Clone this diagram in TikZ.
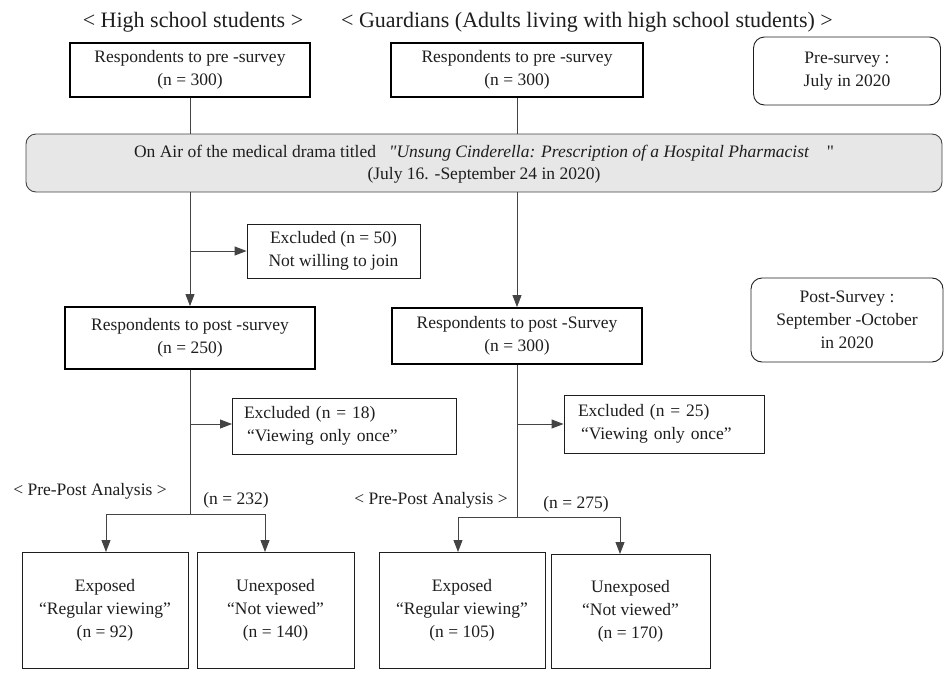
\documentclass[tikz,border=0pt]{standalone}
\usepackage{fontspec}
\setmainfont{Liberation Serif}
\usetikzlibrary{arrows.meta,calc}
\newcommand\strq{\XeTeXglyph\XeTeXcharglyph"22\relax}
\definecolor{ink}{HTML}{1E1E1E}
\definecolor{linec}{HTML}{444444}
\definecolor{bannerfill}{HTML}{E7E7E7}
\tikzset{
  every node/.style={text=ink, font=\fontsize{17.5}{23}\selectfont, align=center, inner sep=0pt},
  thickbox/.style={draw=black, line width=1.8pt, minimum width=#1},
  thinbox/.style={draw=ink, line width=0.9pt},
  roundbox/.style={draw=ink, line width=0.9pt, rounded corners=11pt},
  conn/.style={draw=linec, line width=0.9pt},
  arr/.style={conn, -{Triangle[length=12pt,width=9pt]}},
  headtxt/.style={font=\fontsize{22}{26}\selectfont},
}
\begin{document}
\begin{tikzpicture}[x=1pt,y=-1pt]
\useasboundingbox (0,0) rectangle (945,672);
% headers
\node[headtxt] (h1) at (193,22) {< High school students >};
\node[headtxt] (h2) at (587,22) {< Guardians (Adults living with high school students) >};
% top boxes
\node[thickbox=240pt, minimum height=54pt] (A1) at (190,70) {Respondents to pre -survey\\(n = 300)};
\node[thickbox=252pt, minimum height=54pt] (B1) at (517,70) {Respondents to pre -survey\\(n = 300)};
\node[roundbox, minimum width=187pt, minimum height=68pt] (P1) at (847,71) {Pre-survey :\\July in 2020};
% banner
\node[draw=linec, line width=0.9pt, fill=bannerfill, rounded corners=10pt, minimum width=916pt, minimum height=58pt] (ban) at (484,163) {};
\node (ban1) at (484,153) {On Air of the medical drama titled \enspace\textit{\strq Unsung Cinderella: Prescription of a Hospital Pharmacist}\quad \strq};
\node (ban2) at (484,175) {(July 16. -September 24 in 2020)};
% post-survey boxes
\node[thickbox=250pt, minimum height=62pt] (A2) at (190,338) {Respondents to post -survey\\(n = 250)};
\node[thickbox=250pt, minimum height=56pt] (B2) at (517,336) {Respondents to post -Survey\\(n = 300)};
\node[roundbox, minimum width=192pt, minimum height=84pt] (P2) at (847,320) {Post-Survey :\\September -October\\in 2020};
% excluded boxes
\node[thinbox, minimum width=173pt, minimum height=54pt] (E1) at (333.5,251) {Excluded (n = 50)\\Not willing to join};
\node[thinbox, minimum width=224pt, minimum height=56pt, align=left, text width=200pt] (E2) at (344,426) {Excluded (n = 18)\\\hspace*{3pt}“Viewing only once”};
\node[thinbox, minimum width=200pt, minimum height=58pt, align=left, text width=172pt] (E3) at (664,424) {Excluded (n = 25)\\\hspace*{3pt}“Viewing only once”};
% analysis labels
\node (pp1) at (90,491) {< Pre-Post Analysis >};
\node (n1) at (236,500) {(n = 232)};
\node (pp2) at (431,500) {< Pre-Post Analysis >};
\node (n2) at (576,504) {(n = 275)};
% bottom boxes
\node[thinbox, minimum width=166pt, minimum height=116pt] (L1) at (105,610) {Exposed\\“Regular viewing”\\(n = 92)};
\node[thinbox, minimum width=157pt, minimum height=116pt] (L2) at (275.5,610) {Unexposed\\“Not viewed”\\(n = 140)};
\node[thinbox, minimum width=166pt, minimum height=116pt] (R1) at (462,610) {Exposed\\“Regular viewing”\\(n = 105)};
\node[thinbox, minimum width=159pt, minimum height=114pt] (R2) at (630.5,611) {Unexposed\\“Not viewed”\\(n = 170)};
% coordinates
\coordinate (sL) at (190,514);
\coordinate (sR) at (517,517);
\coordinate (tL1) at (106,552);
\coordinate (tL2) at (265,552);
\coordinate (tR1) at (458,552);
\coordinate (tR2) at (620,554);
\coordinate (e2in) at (232,424);
% connectors
\draw[conn] (A1.south) -- (A1.south |- ban.north);
\draw[conn] (B1.south) -- (B1.south |- ban.north);
\draw[arr] (A1.south |- ban.south) -- (A2.north);
\draw[arr] (B1.south |- ban.south) -- (B2.north);
\draw[arr] (A1.south |- E1.west) -- (E1.west);
\draw[conn] (A2.south) -- (sL);
\draw[arr] (A2.south |- e2in) -- (e2in);
\draw[conn] (B2.south) -- (sR);
\draw[arr] (B2.south |- E3.west) -- (E3.west);
\draw[conn] (tL1 |- sL) -- (tL2 |- sL);
\draw[arr] (tL1 |- sL) -- (tL1);
\draw[arr] (tL2 |- sL) -- (tL2);
\draw[conn] (tR1 |- sR) -- (tR2 |- sR);
\draw[arr] (tR1 |- sR) -- (tR1);
\draw[arr] (tR2 |- sR) -- (tR2);
\end{tikzpicture}
\end{document}
